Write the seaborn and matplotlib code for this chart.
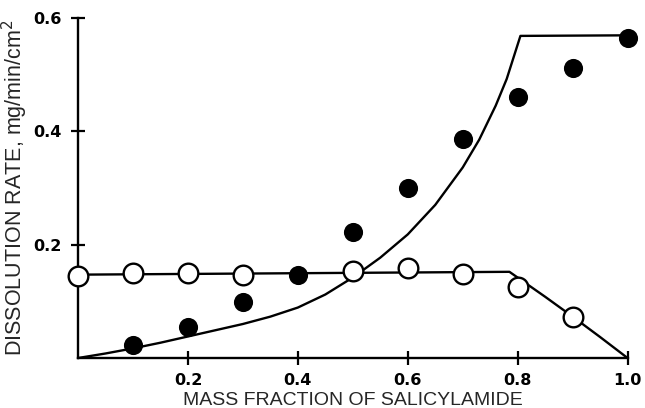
import matplotlib
matplotlib.use("Agg")
import matplotlib.pyplot as plt
import seaborn as sns
import pandas as pd

# Measured points: filled-circle and open-circle series
filled_x = [0.1, 0.2, 0.3, 0.4, 0.5, 0.6, 0.7, 0.8, 0.9, 1.0]
filled_y = [0.023, 0.055, 0.098, 0.146, 0.222, 0.300, 0.386, 0.461, 0.512, 0.565]
open_x = [0.0, 0.1, 0.2, 0.3, 0.5, 0.6, 0.7, 0.8, 0.9]
open_y = [0.144, 0.150, 0.150, 0.147, 0.153, 0.159, 0.149, 0.125, 0.073]

# Theoretical curves
upper_x = [0.0, 0.05, 0.1, 0.15, 0.2, 0.25, 0.3, 0.35, 0.4, 0.45, 0.5, 0.55, 0.6, 0.65, 0.7, 0.73, 0.76, 0.78, 0.805, 1.0]
upper_y = [0.0, 0.008, 0.017, 0.027, 0.038, 0.049, 0.060, 0.073, 0.089, 0.112, 0.142, 0.177, 0.218, 0.270, 0.336, 0.385, 0.445, 0.492, 0.568, 0.569]
lower_x = [0.0, 0.785, 0.85, 0.9, 0.95, 1.0]
lower_y = [0.147, 0.152, 0.108, 0.073, 0.037, 0.0]

x_ticks = [0.2, 0.4, 0.6, 0.8, 1.0]
y_ticks = [0.2, 0.4, 0.6]

sns.set_theme(style="ticks")
plt.rcParams['font.family'] = ['Liberation Sans', 'DejaVu Sans']

fig = plt.figure(figsize=(6.45, 4.08), dpi=100)
ax = fig.add_axes([0.1210, 0.1225, 0.852, 0.834])

up = pd.DataFrame({"x": upper_x, "y": upper_y})
lo = pd.DataFrame({"x": lower_x, "y": lower_y})
sns.lineplot(data=up, x="x", y="y", ax=ax, color="black", lw=1.7, sort=False, clip_on=False)
sns.lineplot(data=lo, x="x", y="y", ax=ax, color="black", lw=1.7, sort=False, clip_on=False)

fd = pd.DataFrame({"x": filled_x, "y": filled_y})
od = pd.DataFrame({"x": open_x, "y": open_y})
sns.scatterplot(data=od, x="x", y="y", ax=ax, s=200, color="white", edgecolor="black",
                linewidth=1.7, zorder=5, clip_on=False)
sns.scatterplot(data=fd, x="x", y="y", ax=ax, s=190, color="black", edgecolor="black",
                linewidth=0, zorder=6, clip_on=False)

ax.set_xlim(0, 1.0)
ax.set_ylim(0, 0.6)
tick_font = dict(family="DejaVu Sans", size=11.5, weight="bold")
ax.set_xticks(x_ticks)
ax.set_xticklabels(["0.2", "0.4", "0.6", "0.8", "1.0"], fontdict=tick_font)
ax.set_yticks(y_ticks)
ax.set_yticklabels(["0.2", "0.4", "0.6"], fontdict=tick_font)
ax.tick_params(direction="inout", length=10, width=1.6, colors="black")
ax.tick_params(axis="x", pad=6)
ax.tick_params(axis="y", pad=7)
for s in ["top", "right"]:
    ax.spines[s].set_visible(False)
for s in ["left", "bottom"]:
    ax.spines[s].set_linewidth(1.7)
    ax.spines[s].set_color("black")

ax.set_xlabel("MASS FRACTION OF SALICYLAMIDE", fontsize=14, labelpad=3)
ax.set_ylabel("DISSOLUTION RATE, mg/min/cm$^2$", fontsize=15.5, labelpad=2)

fig.savefig("out.png", dpi=100)
